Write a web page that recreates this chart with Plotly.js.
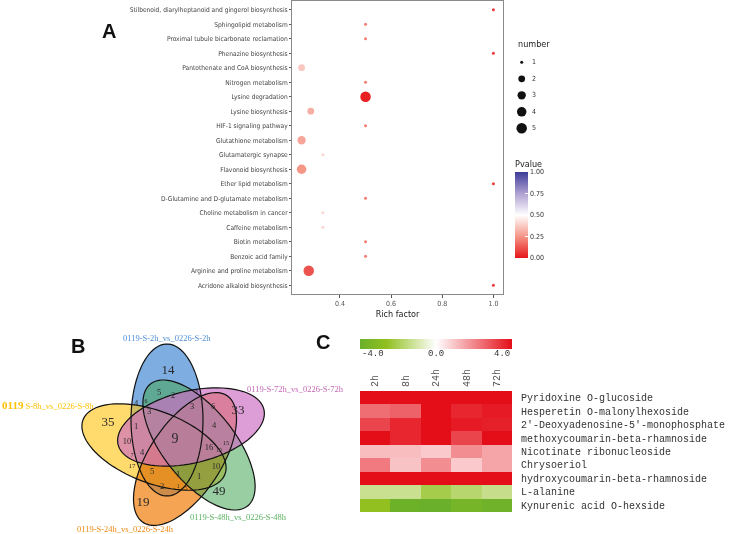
<!DOCTYPE html>
<html>
<head>
<meta charset="utf-8">
<script src="https://cdn.plot.ly/plotly-3.0.1.min.js"></script>
<style>
  html, body { margin: 0; padding: 0; background: #fff; }
  #chart { width: 729px; height: 534px; }
  #chart .main-svg { will-change: transform; }
</style>
</head>
<body>
<div id="chart"></div>
<script>
// ---- panel A: enrichment bubbles ----
const pathways = [
  "Stilbenoid, diarylheptanoid and gingerol biosynthesis",
  "Sphingolipid metabolism",
  "Proximal tubule bicarbonate reclamation",
  "Phenazine biosynthesis",
  "Pantothenate and CoA biosynthesis",
  "Nitrogen metabolism",
  "Lysine degradation",
  "Lysine biosynthesis",
  "HIF-1 signaling pathway",
  "Glutathione metabolism",
  "Glutamatergic synapse",
  "Flavonoid biosynthesis",
  "Ether lipid metabolism",
  "D-Glutamine and D-glutamate metabolism",
  "Choline metabolism in cancer",
  "Caffeine metabolism",
  "Biotin metabolism",
  "Benzoic acid family",
  "Arginine and proline metabolism",
  "Acridone alkaloid biosynthesis"
];
const richFactor = [1.0, 0.5, 0.5, 1.0, 0.25, 0.5, 0.5, 0.286, 0.5, 0.25, 0.333, 0.25, 1.0, 0.5, 0.333, 0.333, 0.5, 0.5, 0.278, 1.0];
const number = [1, 1, 1, 1, 2, 1, 5, 2, 1, 3, 1, 4, 1, 1, 1, 1, 1, 1, 5, 1];
const pvalue = [0.07, 0.2, 0.2, 0.07, 0.37, 0.2, 0.02, 0.31, 0.2, 0.29, 0.4, 0.25, 0.07, 0.2, 0.4, 0.4, 0.2, 0.2, 0.12, 0.07];
const richTicks = [0.4, 0.6, 0.8, 1.0];
const numberLevels = [1, 2, 3, 4, 5];
const pTicks = [0, 0.25, 0.5, 0.75, 1];

// ---- panel B: venn ----
const vennSets = ["0119-S-2h_vs_0226-S-2h", "0119-S-8h_vs_0226-S-8h", "0119-S-24h_vs_0226-S-24h",
                  "0119-S-48h_vs_0226-S-48h", "0119-S-72h_vs_0226-S-72h"];
const vennCounts = [14, 35, 19, 49, 33, 9, 5, 2, 3, 1, 4, 6, 3, 3, 6, 1, 4, 10, 16, 15, 10, 7, 4, 17, 5, 1, 1, 10, 2, 1, 5];

// ---- panel C: heatmap ----
const timepoints = ["2h", "8h", "24h", "48h", "72h"];
const metabolites = [
  "Pyridoxine O-glucoside",
  "Hesperetin O-malonylhexoside",
  "2'-Deoxyadenosine-5'-monophosphate",
  "methoxycoumarin-beta-rhamnoside",
  "Nicotinate ribonucleoside",
  "Chrysoeriol",
  "hydroxycoumarin-beta-rhamnoside",
  "L-alanine",
  "Kynurenic acid O-hexside"
];
const log2fc = [
  [4, 4, 4, 4, 4],
  [2.4, 2.6, 4, 3.6, 3.8],
  [3.1, 3.6, 4, 3.8, 3.7],
  [4, 3.6, 4, 3.1, 4],
  [1.1, 1.1, 0.9, 1.9, 1.5],
  [2.2, 1.0, 1.9, 0.9, 1.5],
  [4, 4, 4, 4, 4],
  [-1.3, -1.3, -2.1, -1.7, -1.35],
  [-2.6, -3.9, -4, -3.6, -3.8]
];
const fcTicks = [-4, 0, 4];

// pixel helpers (page is 729 x 534)
const W = 729, H = 534;
const px = v => v / W;
const py = v => 1 - v / H;

// ggplot-like area scale for bubble size
const sizeOf = n => 3 + 7.5 * Math.sqrt((n - 1) / 4);

const narrow = "Liberation Sans Narrow, Arial Narrow, DejaVu Sans Condensed, sans-serif";
const mono = "Liberation Mono, Courier New, monospace";
const serif = "Liberation Serif, Times New Roman, serif";

const pScale = [[0, "rgb(230,22,26)"], [0.25, "rgb(245,150,135)"], [0.5, "rgb(255,255,255)"],
                [0.75, "rgb(175,160,210)"], [1, "rgb(60,60,152)"]];
const fcScale = [[0, "rgb(106,176,42)"], [0.175, "rgb(145,192,32)"], [0.5, "rgb(255,255,255)"],
                 [1, "rgb(228,14,24)"]];

const traces = [];

traces.push({
  type: "scatter", mode: "markers",
  x: richFactor, y: pathways, xaxis: "x", yaxis: "y",
  hoverinfo: "skip",
  marker: {
    size: number.map(sizeOf), color: pvalue, cmin: 0, cmax: 1,
    colorscale: pScale, line: { width: 0 }, opacity: 1,
    colorbar: {
      x: px(515), xanchor: "left", xpad: 0,
      y: py(258), yanchor: "bottom", ypad: 0,
      len: 101, lenmode: "pixels", thickness: 13, outlinewidth: 0,
      tickvals: pTicks, ticktext: pTicks.map(v => v.toFixed(2)),
      ticks: "inside", ticklen: 3, tickcolor: "#fff",
      tickfont: { family: narrow, size: 7, color: "#333" },
      title: { text: "Pvalue", side: "top", font: { family: narrow, size: 9, color: "#222" } }
    }
  }
});

// size legend
traces.push({
  type: "scatter", mode: "markers",
  x: numberLevels.map(() => 521.7), y: numberLevels.map((n, i) => 62.3 + i * 16.5),
  xaxis: "x5", yaxis: "y5", hoverinfo: "skip",
  marker: { size: numberLevels.map(sizeOf), color: "#111", opacity: 1, line: { width: 0 } }
});
traces.push({
  type: "scatter", mode: "text",
  x: numberLevels.map(() => 532), y: numberLevels.map((n, i) => 62.3 + i * 16.5),
  text: numberLevels.map(String), textposition: "middle right",
  textfont: { family: narrow, size: 7, color: "#333" },
  xaxis: "x5", yaxis: "y5", hoverinfo: "skip"
});

// venn label layout (same order as vennCounts)
const vennPos = [
  [168, 371], [108, 423], [143, 503], [219, 492], [238, 411], [175, 439],
  [159, 393], [173, 396], [196, 391], [201, 398], [136, 404], [146, 401],
  [149, 412], [192, 407], [213, 407], [136, 427], [214, 426], [127, 442],
  [209, 448], [226, 443], [219, 451], [132, 456], [142, 453], [132, 466],
  [152, 472], [178, 475], [199, 477], [216, 467], [162, 487], [178, 487], [186, 488]
];
const vennFont = [13, 13, 13, 13, 13, 14, 8.5, 8.5, 6.5, 6, 8.5, 6, 8.5, 8.5, 8.5, 8.5, 8.5, 8.5,
                  8.5, 6.5, 5.5, 5.5, 8.5, 7, 8.5, 8.5, 8.5, 8.5, 8.5, 5.5, 6];

traces.push({
  type: "scatter", mode: "text",
  x: vennPos.map(p => p[0]), y: vennPos.map(p => p[1]),
  text: vennCounts.map(String), textposition: "middle center",
  textfont: { family: serif, size: vennFont, color: "#2a2a2a" },
  xaxis: "x3", yaxis: "y3", hoverinfo: "skip", cliponaxis: false
});

traces.push({
  type: "heatmap", z: log2fc, x: timepoints, y: metabolites,
  xaxis: "x4", yaxis: "y4", zmin: -4, zmax: 4, colorscale: fcScale,
  hoverinfo: "skip",
  colorbar: {
    orientation: "h", x: px(436), xanchor: "center", xpad: 0,
    y: py(339), yanchor: "top", ypad: 0,
    len: 152, lenmode: "pixels", thickness: 10, outlinewidth: 0,
    showticklabels: false, ticks: ""
  }
});

// ellipses: centre, semi-major, semi-minor, rotation of major axis from vertical (deg, clockwise)
const ellipses = [
  { c: [167, 420], a: 76, b: 36, r: 0, fill: "rgba(40,120,205,0.6)" },
  { c: [154, 447], a: 76, b: 36, r: -69, fill: "rgba(255,195,20,0.62)" },
  { c: [185, 459], a: 76, b: 36, r: -146.6, fill: "rgba(240,125,10,0.7)" },
  { c: [199, 445], a: 78, b: 36, r: 141.5, fill: "rgba(70,165,85,0.55)" },
  { c: [191, 427], a: 75, b: 36, r: 76.4, fill: "rgba(205,110,195,0.68)" }
];
function ellipsePath(e) {
  const r = e.r * Math.PI / 180;
  let d = "";
  for (let k = 0; k <= 90; k++) {
    const t = k / 90 * 2 * Math.PI;
    const ux = e.b * Math.cos(t), uy = -e.a * Math.sin(t);
    const x = e.c[0] + ux * Math.cos(r) - uy * Math.sin(r);
    const y = e.c[1] + ux * Math.sin(r) + uy * Math.cos(r);
    d += (k ? "L" : "M") + x.toFixed(2) + "," + y.toFixed(2);
  }
  return d + "Z";
}
const shapes = [];
ellipses.forEach(e => shapes.push({ type: "path", path: ellipsePath(e), xref: "x3", yref: "y3",
  fillcolor: e.fill, line: { width: 0 }, layer: "below" }));
ellipses.forEach(e => shapes.push({ type: "path", path: ellipsePath(e), xref: "x3", yref: "y3",
  fillcolor: "rgba(0,0,0,0)", line: { color: "#111", width: 1.2 }, layer: "below" }));

const setColors = ["#4f8fd6", "#ffc000", "#f08a12", "#5bb062", "#c466b4"];
const setPos = [[167, 338], [48, 405], [125, 529], [238, 517], [295, 389]];
const setText = vennSets.slice();
setText[1] = '<b style="font-size:11px">0119</b> ' + vennSets[1].slice(5);

const annotations = [
  { text: "<b>A</b>", x: px(100), y: py(31), font: { family: "Liberation Sans, Arial, sans-serif", size: 20, color: "#111" } },
  { text: "<b>B</b>", x: px(69), y: py(346), font: { family: "Liberation Sans, Arial, sans-serif", size: 20, color: "#111" } },
  { text: "<b>C</b>", x: px(323), y: py(342), font: { family: "Liberation Sans, Arial, sans-serif", size: 20, color: "#111" } },
  { text: "number", x: px(516), y: py(44), xanchor: "left", font: { family: narrow, size: 9, color: "#222" } }
].map(a => Object.assign({ xref: "paper", yref: "paper", showarrow: false, yanchor: "middle" }, a));

setText.forEach((t, i) => annotations.push({
  text: t, x: setPos[i][0], y: setPos[i][1], xref: "x3", yref: "y3", showarrow: false,
  font: { family: serif, size: 8.5, color: setColors[i] }
}));

// heatmap colour-bar labels
fcTicks.forEach((v, i) => annotations.push({
  text: v.toFixed(1), xref: "paper", yref: "paper", showarrow: false,
  x: px(360 + (v + 4) / 8 * 152), y: py(361),
  xanchor: i === 0 ? "left" : (i === fcTicks.length - 1 ? "right" : "center"),
  font: { family: mono, size: 9, color: "#333" }
}));

const hidden = { visible: false, showgrid: false, zeroline: false };

const layout = {
  width: W, height: H,
  margin: { l: 0, r: 0, t: 0, b: 0 },
  paper_bgcolor: "#fff", plot_bgcolor: "rgba(0,0,0,0)",
  showlegend: false,
  xaxis: {
    domain: [px(292), px(503)], range: [0.2125, 1.0375],
    tickvals: richTicks, ticktext: richTicks.map(v => v.toFixed(1)),
    showgrid: false, zeroline: false, showline: true, mirror: true,
    linecolor: "#8a8a8a", linewidth: 1,
    ticks: "outside", ticklen: 3, tickcolor: "#555",
    tickfont: { family: narrow, size: 7, color: "#555" },
    title: { text: "Rich factor", standoff: 3, font: { family: narrow, size: 9, color: "#222" } }
  },
  yaxis: {
    domain: [py(294), py(1)], type: "category",
    categoryorder: "array", categoryarray: pathways, range: [19.6, -0.6],
    showgrid: false, zeroline: false, showline: true, mirror: true,
    linecolor: "#8a8a8a", linewidth: 1,
    ticks: "outside", ticklen: 2, tickcolor: "#555",
    tickfont: { family: narrow, size: 6.6, color: "#444" }
  },
  xaxis5: Object.assign({ domain: [px(505), px(560)], range: [505, 560], anchor: "y5" }, hidden),
  yaxis5: Object.assign({ domain: [py(140), py(50)], range: [140, 50], anchor: "x5" }, hidden),
  xaxis3: Object.assign({ domain: [0, px(360)], range: [0, 360], anchor: "y3" }, hidden),
  yaxis3: Object.assign({ domain: [0, py(300)], range: [534, 300], anchor: "x3" }, hidden),
  xaxis4: {
    domain: [px(360), px(512)], anchor: "y4", side: "top",
    tickangle: -90, ticks: "", showgrid: false, zeroline: false, showline: false,
    ticklabelstandoff: 3,
    tickfont: { family: mono, size: 10, color: "#555" }
  },
  yaxis4: {
    domain: [py(512), py(391)], anchor: "x4", side: "right", autorange: "reversed",
    ticks: "", showgrid: false, zeroline: false, showline: false,
    ticklabelstandoff: 8,
    tickfont: { family: mono, size: 10, color: "#333" }
  },
  shapes: shapes,
  annotations: annotations
};

Plotly.newPlot("chart", traces, layout, { displayModeBar: false, staticPlot: true });
</script>
</body>
</html>
